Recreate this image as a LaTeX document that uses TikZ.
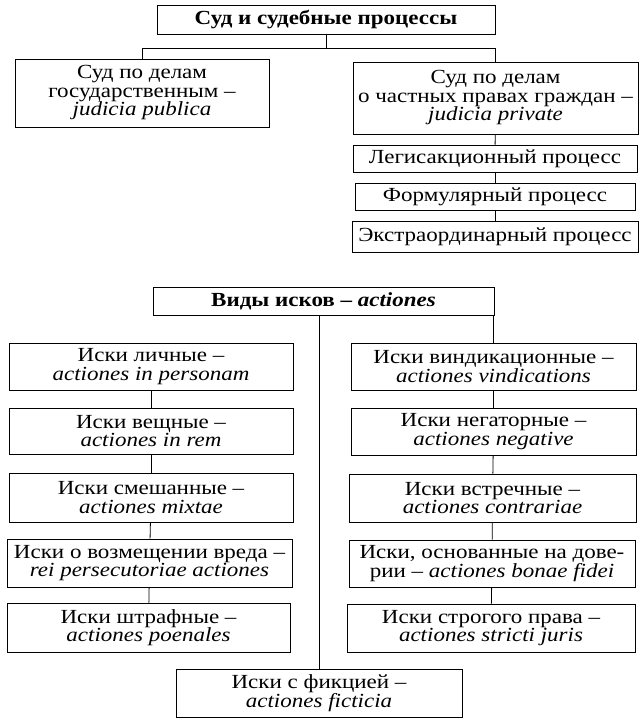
\documentclass[tikz,border=0pt]{standalone}
\usepackage{fontspec}
\setmainfont[FakeStretch=1.15]{Liberation Serif}
\begin{document}
\begin{tikzpicture}[x=1pt,y=-1pt,line width=0.8pt]
\tikzstyle{box}=[draw, fill=white, align=center, inner sep=0pt]
\fontsize{20}{18.5}\selectfont
\useasboundingbox (0,0) rectangle (640,720);

% courts and processes
\node[box, minimum width=338pt, minimum height=29pt] (Sud)   at (326,19.5) {\textbf{Суд и судебные процессы}};
\node[box, minimum width=254pt, minimum height=68pt] (Gos)   at (142,93)   {Суд по делам\\государственным –\\\textit{judicia publica}};
\node[box, minimum width=285pt, minimum height=72pt] (Chast) at (495.5,98) {Суд по делам\\о частных правах граждан –\\\textit{judicia private}};
\node[box, minimum width=284pt, minimum height=27pt] (Leg)   at (495,158.5) {Легисакционный процесс};
\node[box, minimum width=280pt, minimum height=27pt] (Form)  at (495,196.5) {Формулярный процесс};
\node[box, minimum width=286pt, minimum height=31pt] (Ekstr) at (495,236.5) {Экстраординарный процесс};

\draw (Sud.south) -- ++(0,14) coordinate (bar);
\draw (Gos.north) |- (bar) -| (Chast.north);
\draw (Chast) -- (Leg);
\draw (Leg) -- (Form);
\draw (Form) -- (Ekstr);

% kinds of actions
\node[box, minimum width=341pt, minimum height=28pt] (Vidy) at (323.5,301) {\textbf{Виды исков – \textit{actiones}}};

\node[box, minimum width=284pt, minimum height=47pt] (Lich)   at (151,366.5) {Иски личные –\\\textit{actiones in personam}};
\node[box, minimum width=284pt, minimum height=46pt] (Veshch) at (151,431)   {Иски вещные –\\\textit{actiones in rem}};
\node[box, minimum width=284pt, minimum height=49pt] (Smesh)  at (151,497.5) {Иски смешанные –\\\textit{actiones mixtae}};
\node[box, minimum width=285pt, minimum height=48pt] (Vozm)   at (149.5,563) {Иски о возмещении вреда –\\\textit{rei persecutoriae actiones}};
\node[box, minimum width=283pt, minimum height=49pt] (Shtraf) at (148.5,627.5) {Иски штрафные –\\\textit{actiones poenales}};

\node[box, minimum width=285pt, minimum height=47pt] (Vind)  at (493.5,366.5) {Иски виндикационные –\\\textit{actiones vindications}};
\node[box, minimum width=285pt, minimum height=47pt] (Negat) at (493.5,431.5) {Иски негаторные –\\\textit{actiones negative}};
\node[box, minimum width=287pt, minimum height=48pt] (Vstr)  at (492.5,498)   {Иски встречные –\\\textit{actiones contrariae}};
\node[box, minimum width=286pt, minimum height=47pt] (Dover) at (492,563.5)   {Иски, основанные на дове-\\рии – \textit{actiones bonae fidei}};
\node[box, minimum width=288pt, minimum height=48pt] (Strog) at (491,628)     {Иски строгого права –\\\textit{actiones stricti juris}};

\node[box, minimum width=286pt, minimum height=48pt] (Fikc) at (319,693) {Иски с фикцией –\\\textit{actiones ficticia}};

\draw (Vind.north |- Vidy.south) -- (Vind.north);
\draw (Fikc.north |- Vidy.south) -- (Fikc.north);
\draw (Lich) -- (Veshch);
\draw (Veshch) -- (Smesh);
\draw (Smesh) -- (Vozm);
\draw (Vozm) -- (Shtraf);
\draw (Vind) -- (Negat);
\draw (Negat) -- (Vstr);
\draw (Vstr) -- (Dover);
\draw (Dover) -- (Strog);
\end{tikzpicture}
\end{document}
